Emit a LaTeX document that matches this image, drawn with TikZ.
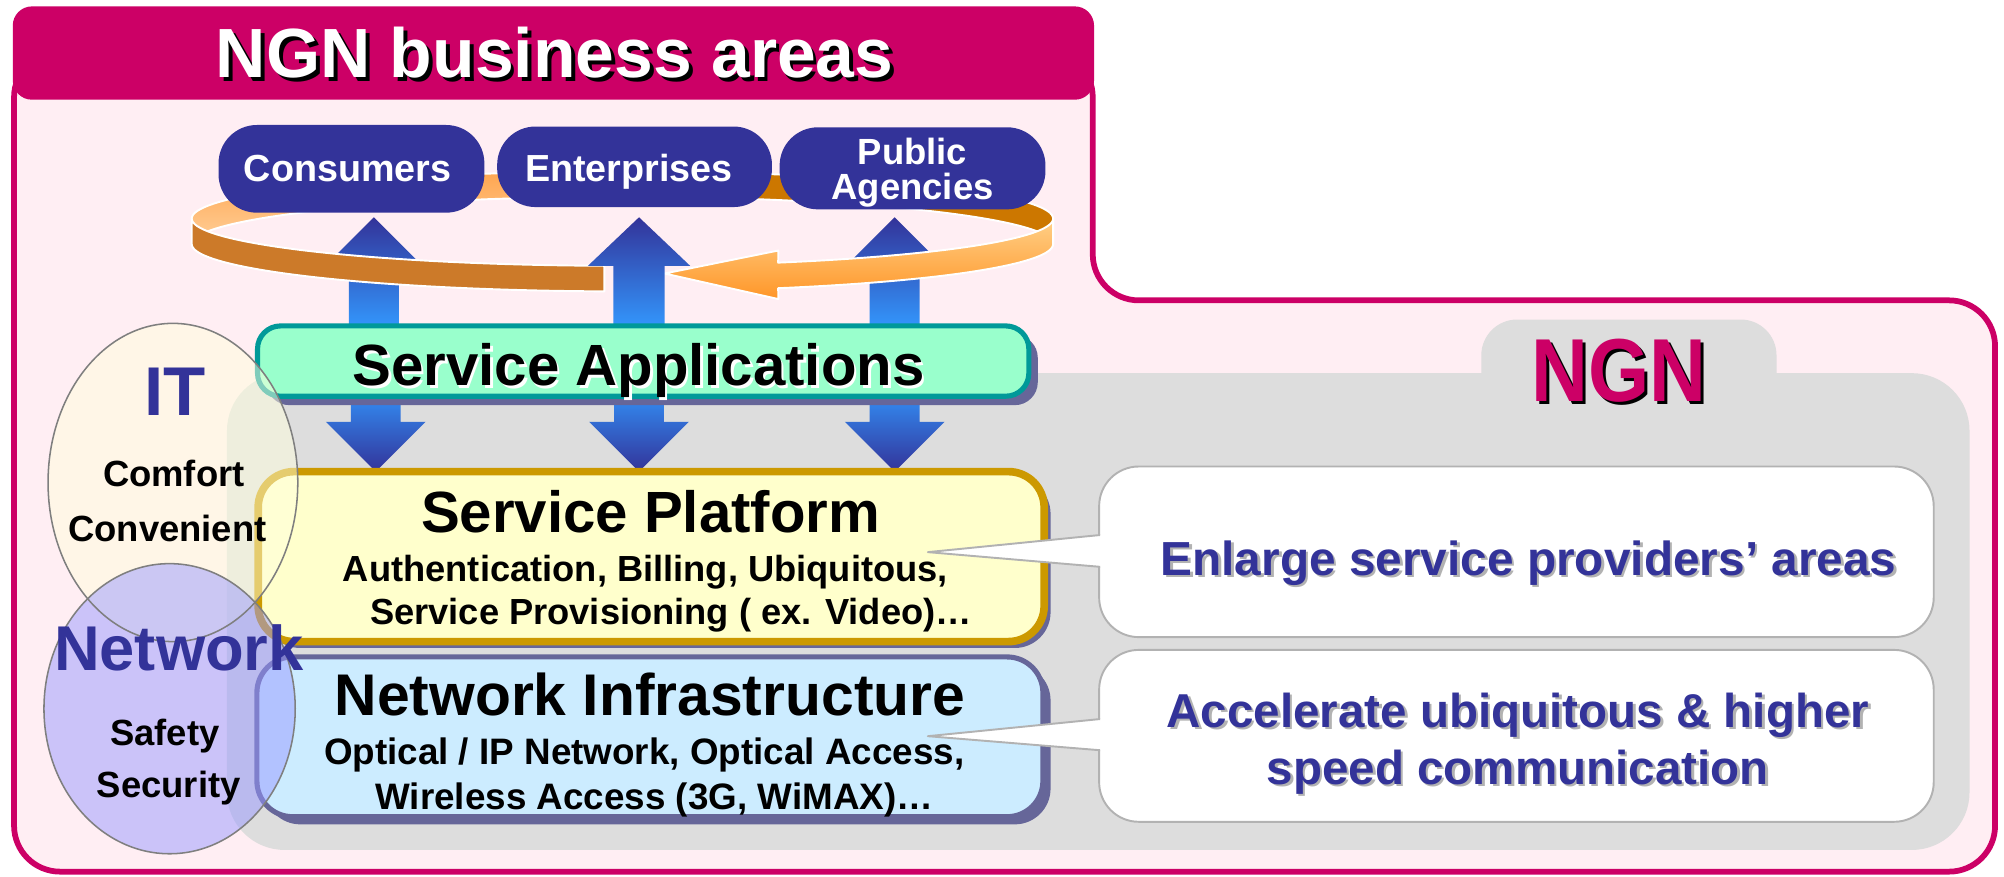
\documentclass[tikz,border=0pt]{standalone}
\usepackage{fontspec}
\setmainfont{Liberation Sans}
\usetikzlibrary{shapes.geometric,shadows}
\definecolor{mag}{HTML}{CC0066}
\definecolor{pinkbg}{RGB}{255,238,243}
\definecolor{navy}{HTML}{333399}
\definecolor{graybg}{HTML}{DDDDDD}
\definecolor{mint}{HTML}{99FFCC}
\definecolor{tealb}{HTML}{009999}
\definecolor{paleyel}{HTML}{FFFFCC}
\definecolor{goldb}{HTML}{CC9900}
\definecolor{paleblue}{HTML}{CCECFF}
\definecolor{slate}{HTML}{666699}
\definecolor{lightblue}{HTML}{3399FF}
\definecolor{brownor}{HTML}{CC7A29}
\definecolor{darkor}{HTML}{CC7700}
\definecolor{callgray}{HTML}{B2B2B2}
\definecolor{orlight}{RGB}{255,208,154}
\definecolor{ortop}{RGB}{255,165,79}
\definecolor{arrtop}{RGB}{255,208,136}
\definecolor{arrbot}{RGB}{255,150,40}
\definecolor{itfill}{RGB}{255,255,221}
\definecolor{netfill}{RGB}{153,153,255}
\definecolor{ellline}{HTML}{7F7F7F}
\newcommand{\fsz}[1]{\fontsize{#1}{#1}\selectfont\bfseries}
\begin{document}
\begin{tikzpicture}[x=1pt,y=-1pt,
 bizbox/.style={fill=navy, rounded corners=30pt, inner sep=0pt, outer sep=0pt},
 txt/.style={anchor=base, inner sep=0pt, outer sep=0pt},
 callout/.style={fill=white, draw=callgray, line width=1.5pt, rounded corners=31pt, inner sep=0pt},
 upshade/.style={top color=navy, bottom color=lightblue},
 downshade/.style={top color=lightblue, bottom color=navy},
 ringedge/.style={draw=white, line width=1.5pt, line join=round},
 ellfill/.style={ellipse, inner sep=0pt, fill opacity=0.5},
]
\useasboundingbox (0,0) rectangle (1568,686);
\fill[white] (0,0) rectangle (1568,686);

% pink body
\draw[mag, line width=4.5pt, fill=pinkbg, rounded corners=36pt]
  (855,40) -- (11,40) -- (11,682) -- (1561,682) -- (1561,235) -- (855,235) -- cycle;
% header tab
\node[fill=mag, rounded corners=15pt, minimum width=846pt, minimum height=73pt, inner sep=0pt] (tab) at (433,41.5) {};
\node[txt, text=black, font=\fsz{54.5}] (titlesh) at (437,63.5) {NGN business areas};
\node[txt, text=white, font=\fsz{54.5}] (title) at (434,61) {NGN business areas};

% NGN gray region
\fill[graybg, rounded corners=45pt] (177.6,292) rectangle (1541,665);
\fill[graybg, rounded corners=28pt] (1159,250) rectangle (1390,330);
\node[txt, text=black, font=\fsz{70}] (ngnsh) at (1269,316.5) {\scalebox{0.88}[1]{NGN}};
\node[txt, text=mag, font=\fsz{70}] (ngn) at (1266.5,314) {\scalebox{0.88}[1]{NGN}};

% ring back (inner face)
\shadedraw[top color=ortop, bottom color=orlight, ringedge]
  (150,171) -- plot[domain=180:270, samples=40] ({487+337*cos(\x)},{171+37*sin(\x)})
  -- plot[domain=270:180, samples=40] ({487+337*cos(\x)},{191+37*sin(\x)}) -- cycle;
\filldraw[fill=darkor, ringedge]
  (487,134) -- plot[domain=270:360, samples=40] ({487+337*cos(\x)},{171+37*sin(\x)})
  -- plot[domain=360:270, samples=40] ({487+337*cos(\x)},{191+37*sin(\x)}) -- cycle;

% business boxes
\node[bizbox, minimum width=208pt, minimum height=68.6pt] (cons) at (275,132.1) {};
\node[bizbox, minimum width=215pt, minimum height=63pt] (ent) at (496.5,130.5) {};
\node[bizbox, minimum width=208pt, minimum height=64.2pt] (pub) at (714,131.7) {};
\node[txt, text=white, font=\fsz{29.5}] (consT) at (272,142) {Consumers};
\node[txt, text=white, font=\fsz{29.5}] (entT) at (492,142) {Enterprises};
\node[txt, text=white, font=\fsz{28.5}] (pubT1) at (714,129) {Public};
\node[txt, text=white, font=\fsz{28.5}] (pubT2) at (714,156) {Agencies};

% up arrows behind the ring front
\foreach \X in {292.5,700} {
  \shade[upshade] (\X,170) -- (\X+40,210) -- (\X+19.5,210) -- (\X+19.5,258)
    -- (\X-19.5,258) -- (\X-19.5,210) -- (\X-40,210) -- cycle;
}

% ring front (outer face)
\filldraw[fill=brownor, ringedge]
  plot[domain=180:92.4, samples=40] ({487+337*cos(\x)},{171+37*sin(\x)})
  -- plot[domain=92.4:180, samples=40] ({487+337*cos(\x)},{191+37*sin(\x)}) -- cycle;
\shadedraw[top color=arrtop, bottom color=arrbot, ringedge]
  plot[domain=0:68.8, samples=40] ({487+337*cos(\x)},{171+37*sin(\x)})
  -- (609,196) -- (520,214) -- (609,234)
  -- plot[domain=68.8:0, samples=40] ({487+337*cos(\x)},{191+37*sin(\x)}) -- cycle;

% enterprises up arrow in front
\shade[upshade] (500,170) -- (540,208) -- (520,208) -- (520,258)
    -- (480,258) -- (480,208) -- (460,208) -- cycle;

% down arrows
\foreach \X in {294,500,700} {
  \shade[downshade] (\X-19.5,300) -- (\X+19.5,300) -- (\X+19.5,330) -- (\X+39,330)
    -- (\X,369) -- (\X-39,330) -- (\X-19.5,330) -- cycle;
}

% layer boxes
\node[fill=mint, draw=tealb, line width=4pt, rounded corners=18pt, inner sep=0pt,
  minimum width=603.5pt, minimum height=55pt,
  drop shadow={shadow xshift=7pt, shadow yshift=-7pt, fill=slate, opacity=1}] (sa) at (503.25,282.5) {};
\node[txt, text=white, font=\fsz{45.5}] (saTs) at (501.6,304) {Service Applications};
\node[txt, text=black, font=\fsz{45.5}] (saT) at (499.6,302) {Service Applications};

\node[fill=paleyel, draw=goldb, line width=6pt, rounded corners=28pt, inner sep=0pt,
  minimum width=615pt, minimum height=133pt,
  drop shadow={shadow xshift=5pt, shadow yshift=-5pt, fill=slate, opacity=1}] (sp) at (509.5,435.5) {};
\node[txt, font=\fsz{45.5}] (spT) at (509,417) {Service Platform};
\node[txt, font=\fsz{28.4}] (spT1) at (505,455) {Authentication, Billing, Ubiquitous,};
\node[txt, font=\fsz{28.4}] (spT2) at (525,489) {Service Provisioning ( ex. Video)…};

\node[fill=paleblue, draw=slate, line width=4pt, rounded corners=28pt, inner sep=0pt,
  minimum width=615pt, minimum height=125pt,
  drop shadow={shadow xshift=6pt, shadow yshift=-6pt, fill=slate, opacity=1}] (ni) at (508.5,576.5) {};
\node[txt, font=\fsz{46}] (niT) at (508.5,560) {Network Infrastructure};
\node[txt, font=\fsz{28.8}] (niT1) at (504,598) {Optical / IP Network, Optical Access,};
\node[txt, font=\fsz{28.8}] (niT2) at (512,633) {Wireless Access (3G, WiMAX)…};

% callouts
\node[callout, minimum width=653pt, minimum height=133.5pt] (c1) at (1186.5,431.75) {};
\node[callout, minimum width=653pt, minimum height=134.5pt] (c2) at (1186.5,575.75) {};
\coordinate (t1) at (726,432);
\coordinate (t2) at (726,576);
\fill[white] (862.5,418.6) -- (t1) -- (862.5,443.5) -- cycle;
\draw[callgray, line width=1.5pt, line join=round] (860.75,418.6) -- (t1) -- (860.75,443.5);
\fill[white] (862.5,562.6) -- (t2) -- (862.5,587) -- cycle;
\draw[callgray, line width=1.5pt, line join=round] (860.75,562.6) -- (t2) -- (860.75,587);
\node[txt, text=black!30, font=\fsz{37.4}] (c1Ts) at (1198,452) {Enlarge service providers’ areas};
\node[txt, text=navy, font=\fsz{37.4}] (c1T) at (1196,450) {Enlarge service providers’ areas};
\node[txt, text=black!30, font=\fsz{37.2}] (c2Ts1) at (1189.6,571) {Accelerate ubiquitous \& higher};
\node[txt, text=navy, font=\fsz{37.2}] (c2T1) at (1187.6,569) {Accelerate ubiquitous \& higher};
\node[txt, text=black!30, font=\fsz{37.2}] (c2Ts2) at (1189.5,615.5) {speed communication};
\node[txt, text=navy, font=\fsz{37.2}] (c2T2) at (1187.5,613.5) {speed communication};

% IT / Network ellipses
\node[ellfill, fill=itfill, minimum width=195.4pt, minimum height=249pt] (itell) at (135.3,377.5) {};
\node[ellfill, fill=netfill, minimum width=196.6pt, minimum height=227pt] (netell) at (132.7,554.5) {};
\draw[ellline, line width=1.2pt] (135.3,377.5) ellipse [x radius=97.7, y radius=124.5];
\draw[ellline, line width=1.2pt] (132.7,554.5) ellipse [x radius=98.3, y radius=113.5];
\node[txt, text=navy, font=\fsz{54}] (itT) at (137,325) {IT};
\node[txt, font=\fsz{28.5}] (itT1) at (136,381) {Comfort};
\node[txt, font=\fsz{28.5}] (itT2) at (131,423.5) {Convenient};
\node[txt, text=navy, font=\fsz{49.5}] (netT) at (140,525) {Network};
\node[txt, font=\fsz{28.5}] (netT1) at (129,583) {Safety};
\node[txt, font=\fsz{28.5}] (netT2) at (132,624) {Security};
\end{tikzpicture}
\end{document}
